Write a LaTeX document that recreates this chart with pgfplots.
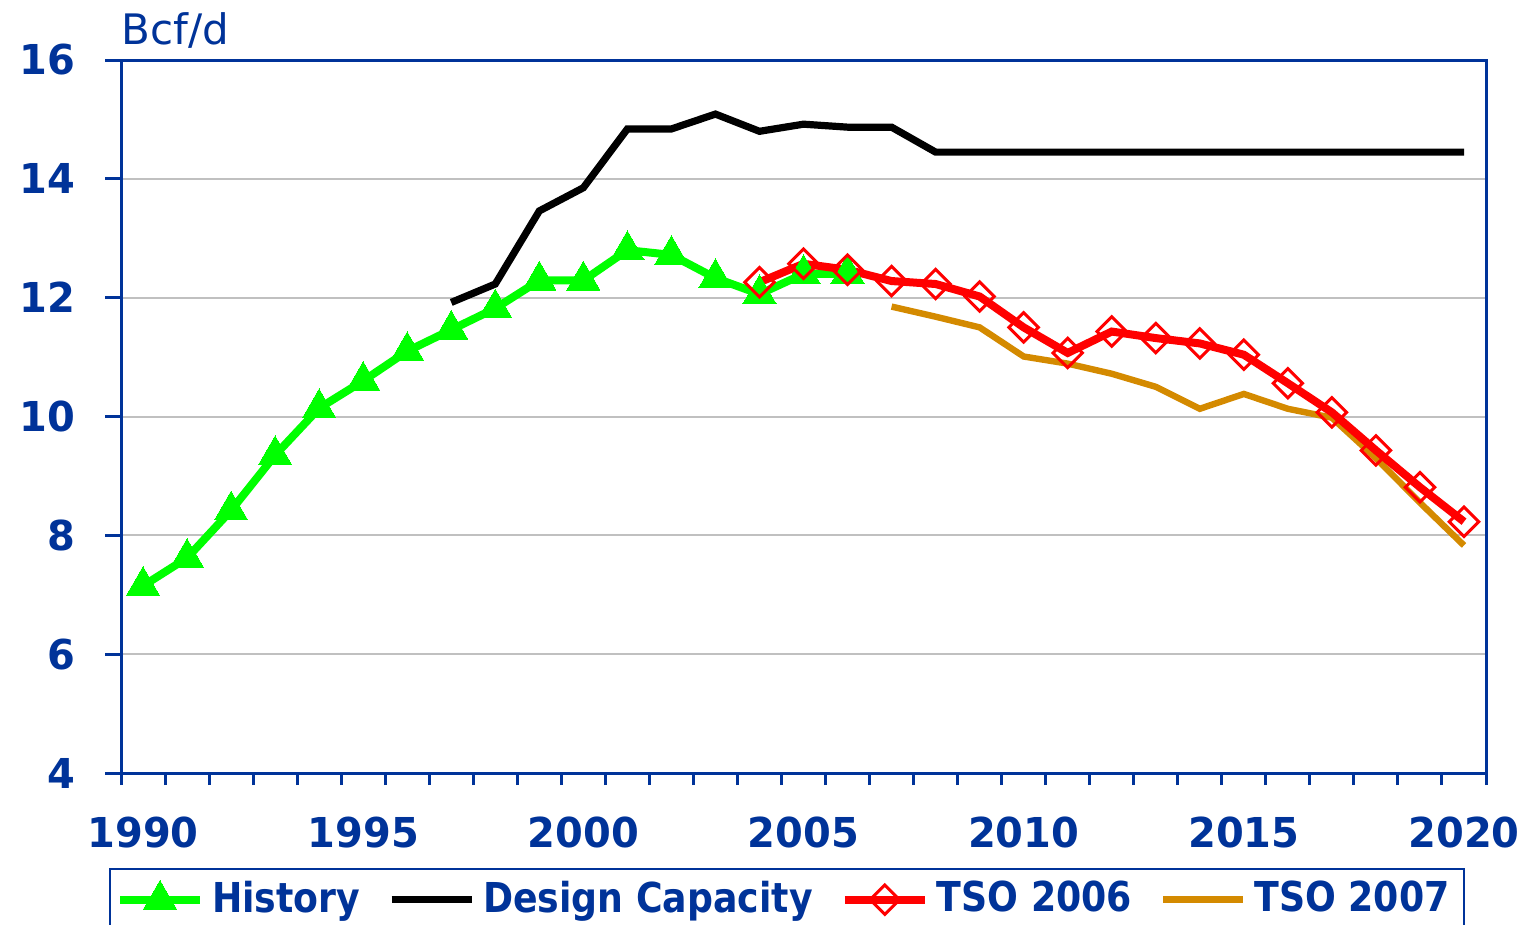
\documentclass[border=0pt]{standalone}
\usepackage{pgfplots}
\pgfplotsset{compat=1.18}
\usetikzlibrary{calc}
\usepackage{fontspec}
\setmainfont{DejaVu Sans}
\newfontfamily\tickfont[FakeStretch=0.97]{DejaVu Sans}
\newfontfamily\legfont[FakeStretch=0.88]{DejaVu Sans}
\newcommand{\tf}{\tickfont\bfseries\fontsize{10.3}{12}\selectfont}
\newcommand{\lf}{\legfont\bfseries\fontsize{10.3}{12}\selectfont}
\definecolor{eiablue}{HTML}{003399}
\definecolor{histgreen}{HTML}{00FF00}
\definecolor{tsoA}{HTML}{FF0000}
\definecolor{tsoB}{HTML}{D48A00}
\definecolor{gridgray}{HTML}{C0C0C0}

\begin{document}
\begin{tikzpicture}
\begin{axis}[scale only axis, width=341.25pt, height=178.25pt,
    xmin=1989.5, xmax=2020.5, ymin=4, ymax=16,
    axis line style={eiablue, line width=0.75pt},
    tick style={eiablue, line width=0.75pt},
    tick align=outside, xtick pos=bottom, ytick pos=left,
    xtick={1990,1995,2000,2005,2010,2015,2020},
    xticklabels={1990,1995,2000,2005,2010,2015,2020},
    major x tick style={draw=none},
    minor xtick={1989.5,1990.5,...,2020.5},
    minor tick length=3pt, major tick length=4pt,
    ytick={4,6,...,16},
    ymajorgrids, grid style={gridgray, line width=0.5pt},
    /pgf/number format/assume math mode=true,
    ticklabel style={font=\tf, text=eiablue},
    xticklabel style={yshift=-3.5pt},
    yticklabel style={xshift=-4pt},
    legend columns=4,
    legend cell align=left,
    legend style={at={(0,0)}, anchor=north west, xshift=-3pt, yshift=-23.75pt,
      draw=eiablue, line width=0.5pt, font=\lf, text=eiablue,
      inner xsep=1.5pt, inner ysep=1pt,
      /tikz/every even column/.append style={column sep=5pt}},
    legend image code/.code={\draw[mark repeat=2, mark phase=2]
      plot coordinates {(0pt,0pt) (10pt,0pt) (20pt,0pt)};},
  ]
  \addlegendimage{histgreen, line width=2pt, mark=triangle*, mark size=4.8pt, mark options={solid, fill=histgreen, line width=0pt}}
  \addlegendentry{History}
  \addlegendimage{black, line width=1.8pt}
  \addlegendentry{Design Capacity}
  \addlegendimage{tsoA, line width=2pt, mark=square, mark size=2.6pt, mark options={rotate=45, line width=0.75pt}}
  \addlegendentry{TSO 2006}
  \addlegendimage{tsoB, line width=1.6pt}
  \addlegendentry{TSO 2007}

  % design capacity
  \addplot[forget plot, black, line width=1.8pt] coordinates {
    (1997,11.92) (1998,12.23) (1999,13.46) (2000,13.85) (2001,14.84) (2002,14.84)
    (2003,15.09) (2004,14.80) (2005,14.92) (2006,14.87) (2007,14.87) (2008,14.45)
    (2009,14.45) (2010,14.45) (2011,14.45) (2012,14.45) (2013,14.45) (2014,14.45)
    (2015,14.45) (2016,14.45) (2017,14.45) (2018,14.45) (2019,14.45) (2020,14.45)};
  % history
  \addplot[forget plot, histgreen, line width=2pt, mark=triangle*, mark size=4.8pt,
    mark options={fill=histgreen, line width=0pt}] coordinates {
    (1990,7.15) (1991,7.62) (1992,8.42) (1993,9.35) (1994,10.14) (1995,10.60)
    (1996,11.10) (1997,11.46) (1998,11.82) (1999,12.29) (2000,12.29) (2001,12.80)
    (2002,12.72) (2003,12.33) (2004,12.06) (2005,12.40) (2006,12.40)};
  % TSO 2007
  \addplot[forget plot, tsoB, line width=1.6pt] coordinates {
    (2007,11.85) (2008,11.68) (2009,11.50) (2010,11.01) (2011,10.89) (2012,10.72)
    (2013,10.50) (2014,10.13) (2015,10.38) (2016,10.13) (2017,9.98) (2018,9.30)
    (2019,8.55) (2020,7.83)};
  % TSO 2006
  \addplot[forget plot, tsoA, line width=2pt, mark=square, mark size=2.6pt,
    mark options={rotate=45, line width=0.75pt}] coordinates {
    (2004,12.26) (2005,12.57) (2006,12.47) (2007,12.28) (2008,12.23) (2009,12.02)
    (2010,11.50) (2011,11.07) (2012,11.43) (2013,11.32) (2014,11.23) (2015,11.04)
    (2016,10.56) (2017,10.07) (2018,9.43) (2019,8.81) (2020,8.23)};

  \coordinate (SW) at (rel axis cs:0,0);
  \coordinate (NE) at (rel axis cs:1,1);
  \coordinate (NW) at (rel axis cs:0,1);
\end{axis}
\node[anchor=base west, inner sep=0pt, text=eiablue, font=\fontsize{10.5}{12}\selectfont]
  at ($(NW)+(0pt,4pt)$) {Bcf/d};
\pgfresetboundingbox
\path[use as bounding box] ($(SW)+(-30.25pt,-37.75pt)$) rectangle ($(NE)+(10pt,15pt)$);
\end{tikzpicture}
\end{document}
